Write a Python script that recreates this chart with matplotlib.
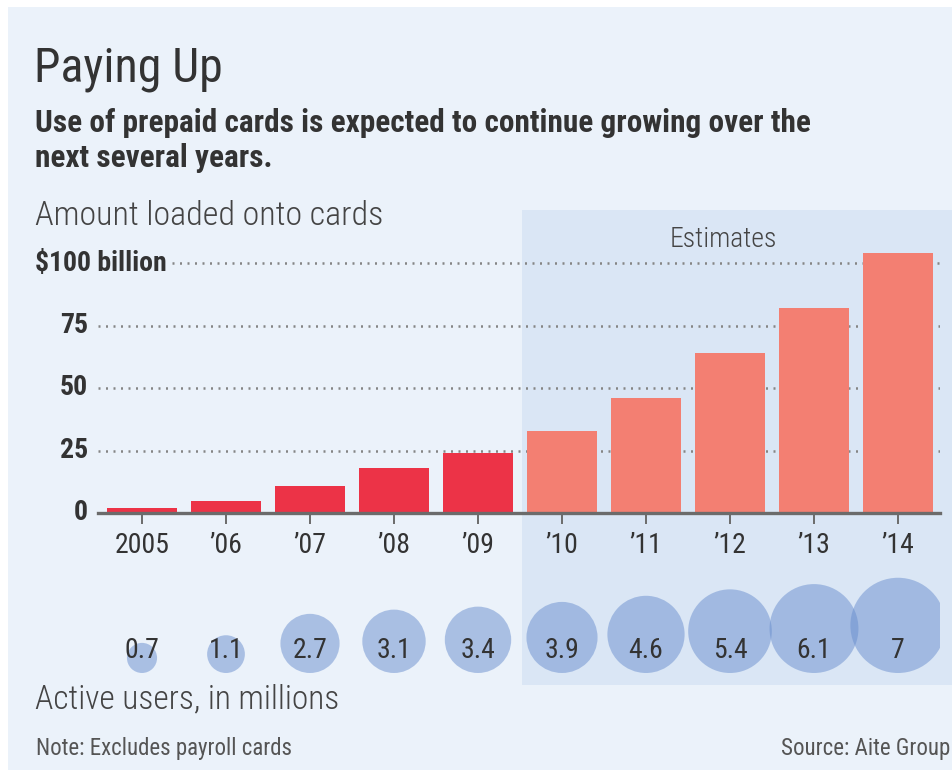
import matplotlib
matplotlib.use("Agg")
import matplotlib.pyplot as plt
from matplotlib.patches import Rectangle, Circle
from matplotlib import font_manager
import numpy as np

# ---------------- data ----------------
years = ["2005", "\u201906", "\u201907", "\u201908", "\u201909",
         "\u201910", "\u201911", "\u201912", "\u201913", "\u201914"]
amount_loaded = [2, 5, 11, 18, 24, 33, 46, 64, 82, 104]   # $ billion
is_estimate = [False] * 5 + [True] * 5
active_users = [0.7, 1.1, 2.7, 3.1, 3.4, 3.9, 4.6, 5.4, 6.1, 7]  # millions
user_labels = ["0.7", "1.1", "2.7", "3.1", "3.4", "3.9", "4.6", "5.4", "6.1", "7"]
y_ticks = [0, 25, 50, 75, 100]
y_tick_labels = ["0", "25", "50", "75", "$100 billion"]

# ---------------- fonts ----------------
avail = {f.name for f in font_manager.fontManager.ttflist}
FONT = next((f for f in ["Roboto Condensed", "Liberation Sans Narrow",
                         "Open Sans Condensed", "DejaVu Sans Condensed",
                         "Liberation Sans"] if f in avail), "DejaVu Sans")
plt.rcParams["font.family"] = [FONT, "DejaVu Sans"]

W, H = 953, 770
BG = "#EBF2FA"
SHADE = "#DAE6F5"
TXT = "#333333"
RED = "#EC3347"
SALMON = "#F37F72"
BUBBLE = "#698ECE"

fig = plt.figure(figsize=(W / 100, H / 100), dpi=100)
fig.patch.set_facecolor("white")


def fx(px):
    return px / W


def fy(py):
    return 1 - py / H


# background panel
fig.patches.append(Rectangle((fx(8), fy(H)), fx(W) - fx(8), fy(7) - fy(H),
                             transform=fig.transFigure, facecolor=BG,
                             edgecolor="none", zorder=-10))
# estimates shading
fig.patches.append(Rectangle((fx(522), fy(685)), fx(953) - fx(522), fy(210) - fy(685),
                             transform=fig.transFigure, facecolor=SHADE,
                             edgecolor="none", zorder=-9))

# ---------------- titles ----------------
fig.text(fx(34), fy(82), "Paying Up", fontsize=34.5, color=TXT, va="baseline", ha="left")
fig.text(fx(35), fy(132), "Use of prepaid cards is expected to continue growing over the",
         fontsize=22.5, fontweight="semibold", color=TXT, va="baseline", ha="left")
fig.text(fx(35), fy(167), "next several years.",
         fontsize=22.5, fontweight="semibold", color=TXT, va="baseline", ha="left")
fig.text(fx(35), fy(225), "Amount loaded onto cards", fontsize=24.5, color="#444444",
         va="baseline", ha="left", fontweight="light")
fig.text(fx(723), fy(247), "Estimates", fontsize=20, color="#444444",
         va="baseline", ha="center", fontweight="light")

# ---------------- bar axes ----------------
STEP = 84.0
X0 = 142.0
ax_l, ax_r = 98, 940
ax_t, ax_b = 240, 513
ax = fig.add_axes([fx(ax_l), fy(ax_b), fx(ax_r) - fx(ax_l), fy(ax_t) - fy(ax_b)])
ax.set_facecolor("none")
ax.set_xlim((ax_l - X0) / STEP, (ax_r - X0) / STEP)
ax.set_ylim(0, (ax_b - ax_t) / 2.5)

x = np.arange(len(years))
colors = [SALMON if e else RED for e in is_estimate]
ax.bar(x, amount_loaded, width=70 / STEP, color=colors, zorder=3)

# gridlines (dotted)
xmin, xmax = ax.get_xlim()
for t in y_ticks[1:]:
    start = xmin if t != 100 else (172 - X0) / STEP
    ax.hlines(t, start, xmax, colors="#858585", linewidth=1.8,
              linestyles=(0, (0.8, 2.2)), zorder=1)

for s in ["top", "right", "left"]:
    ax.spines[s].set_visible(False)
ax.spines["bottom"].set_color("#6b6b6b")
ax.spines["bottom"].set_linewidth(2.4)
ax.spines["bottom"].set_zorder(4)

ax.set_xticks(x)
ax.set_xticklabels(years, fontsize=20, color=TXT)
ax.tick_params(axis="x", length=8, width=1.4, color="#6b6b6b", pad=6)
ax.set_yticks([])

# y tick labels
for t, lab in zip(y_ticks, y_tick_labels):
    if t == 100:
        fig.text(fx(35), fy(513 - 2.5 * t), lab, fontsize=20, fontweight="semibold",
                 color=TXT, va="center", ha="left")
    else:
        fig.text(fx(88), fy(513 - 2.5 * t), lab, fontsize=20, fontweight="semibold",
                 color=TXT, va="center", ha="right")

# ---------------- bubble axes ----------------
b_t, b_b = 560, 690
bx = fig.add_axes([fx(ax_l), fy(b_b), fx(ax_r) - fx(ax_l), fy(b_t) - fy(b_b)])
bx.set_xlim(ax.get_xlim())
bx.set_ylim(0, (b_b - b_t) / STEP)
bx.axis("off")
base = (b_b - 673) / STEP
for i, v in enumerate(active_users):
    r = 36 * np.sqrt(v) / 2 / STEP
    bx.add_patch(Circle((i, base + r), r, facecolor=BUBBLE, alpha=0.5,
                        edgecolor="none", zorder=2))
    bx.text(i, (b_b - 650) / STEP, user_labels[i], fontsize=20, color=TXT,
            ha="center", va="center", zorder=3)

fig.text(fx(35), fy(708), "Active users, in millions", fontsize=24, color="#444444",
         va="baseline", ha="left", fontweight="light")
fig.text(fx(36), fy(755), "Note: Excludes payroll cards", fontsize=16.5,
         color="#555555", va="baseline", ha="left")
fig.text(fx(950), fy(755), "Source: Aite Group", fontsize=16.5,
         color="#555555", va="baseline", ha="right")

fig.savefig("out.png", dpi=100, facecolor=fig.get_facecolor())
